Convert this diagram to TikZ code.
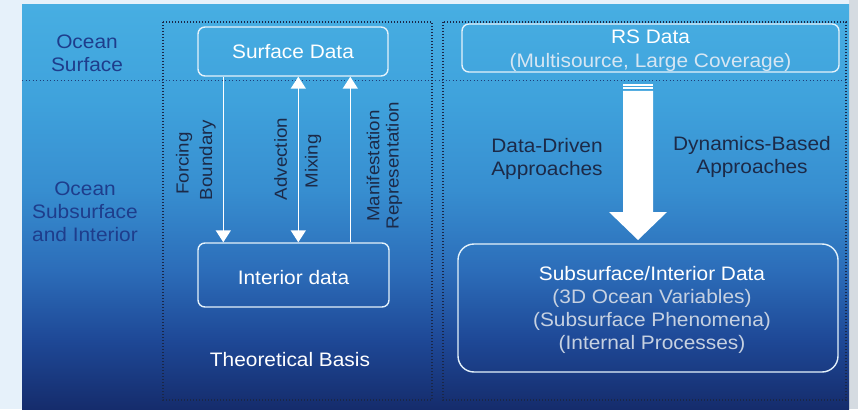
\documentclass[tikz,border=0pt]{standalone}
\usepackage{fontspec}
\setmainfont{Liberation Sans}[FakeStretch=1.07]
\usetikzlibrary{arrows.meta,calc}
\definecolor{bgout}{HTML}{E6F1FA}
\definecolor{graystrip}{HTML}{D5DBE1}
\definecolor{oc1}{HTML}{152C6C}
\definecolor{oc2}{HTML}{1E4896}
\definecolor{oc3}{HTML}{2C6DB9}
\definecolor{oc4}{HTML}{378ED0}
\definecolor{oc5}{HTML}{3FA2DC}
\definecolor{oc6}{HTML}{47AEE2}
\definecolor{navylabel}{HTML}{1E3D8C}
\definecolor{darklabel}{HTML}{1C2A48}
\definecolor{dotcol}{HTML}{1A2748}
\definecolor{hdotcol}{HTML}{1E3D7A}
\definecolor{boxline}{HTML}{E4F2FB}
\definecolor{softtext}{HTML}{D6E6F3}
\definecolor{greytext}{HTML}{C6D1E1}
\pgfdeclareverticalshading{oceanshade}{100bp}{color(0bp)=(oc1); color(25bp)=(oc1); color(33.5bp)=(oc2); color(42.2bp)=(oc3); color(52.1bp)=(oc4); color(63.2bp)=(oc5); color(75bp)=(oc6); color(100bp)=(oc6)}
\begin{document}
\begin{tikzpicture}[x=1pt,y=-1pt,
  mainfont/.style={font=\fontsize{19.5}{23}\selectfont},
  rotfont/.style={font=\fontsize{17.5}{20}\selectfont},
  databox/.style={draw=boxline, line width=1.4pt, rounded corners=7pt, text=white, inner sep=0pt, mainfont, align=center},
  sidelabel/.style={text=navylabel, mainfont, align=center, inner sep=0pt},
  approach/.style={text=darklabel, mainfont, align=center, inner sep=0pt},
  rotlabel/.style={text=darklabel, rotfont, rotate=90, inner sep=0pt},
  dotbox/.style={draw=dotcol, line width=1.3pt, dash pattern=on 1.3pt off 1.7pt},
  hdot/.style={draw=hdotcol, line width=1pt, dash pattern=on 1.2pt off 2.3pt},
  conn/.style={draw=white, line width=1.5pt},
  tip/.style={-{Triangle[width=15pt,length=12pt]}},
  bothtips/.style={{Triangle[width=15pt,length=12pt]}-{Triangle[width=15pt,length=12pt]}}
]
\useasboundingbox (0,0) rectangle (858,409);
\fill[bgout] (0,0) rectangle (858,409);
\fill[graystrip] (849,0) rectangle (858,409);
\shade[shading=oceanshade] (22,5) rectangle (849,409);

% dotted frames
\draw[hdot] (22,81) -- (847,81);
\draw[dotbox] (163,22) rectangle (432,400);
\draw[dotbox] (443,22) rectangle (846,400);

% side labels
\node[sidelabel] (osurf) at (87,53) {Ocean\\Surface};
\node[sidelabel] (osub) at (85,212) {Ocean\\Subsurface\\and Interior};

% left panel
\node[databox, minimum width=190pt, minimum height=49pt] (sd) at (293,51.5) {Surface Data};
\node[databox, minimum width=191pt, minimum height=64pt] (id) at (293.5,275) {\rule{0pt}{20pt}Interior data};
\node[text=white, mainfont, inner sep=0pt] (tb) at (290,360) {Theoretical Basis};

\draw[conn, tip] ([xshift=26pt]sd.south west) -- ([xshift=26pt]sd.south west |- id.north);
\draw[conn, bothtips] ([xshift=101pt]sd.south west) -- ([xshift=101pt]sd.south west |- id.north);
\draw[conn, tip] ([xshift=153pt]sd.south west |- id.north) -- ([xshift=153pt]sd.south west);

\node[rotlabel] (forcing) at (184,163.5) {Forcing};
\node[rotlabel] (boundary) at (207.5,160) {Boundary};
\node[rotlabel] (advection) at (280.5,159) {Advection};
\node[rotlabel] (mixing) at (313,161.5) {Mixing};
\node[rotlabel] (manif) at (373,166) {Manifestation};
\node[rotlabel] (repres) at (394,165.5) {Representation};

% right panel
\node[databox, minimum width=377pt, minimum height=48pt, font=\fontsize{19.5}{24}\selectfont] (rs) at (650.5,48) {\rule{0pt}{20pt}RS Data\\{\color{softtext}(Multisource, Large Coverage)}};
\node[databox, rounded corners=16pt, minimum width=380pt, minimum height=128pt, font=\fontsize{19.5}{23.3}\selectfont] (sid) at (648,308) {\rule{0pt}{18pt}\hspace*{8pt}Subsurface/Interior Data\\{\color{greytext}\hspace*{8pt}(3D Ocean Variables)}\\{\color{greytext}\hspace*{8pt}(Subsurface Phenomena)}\\{\color{greytext}\hspace*{8pt}(Internal Processes)}};

\node[approach] (dd) at (547,158.5) {Data-Driven\\Approaches};
\node[approach] (db) at (752,156.5) {Dynamics-Based\\Approaches};

% big arrow
\fill[white] (623,91) -- (653,91) -- (653,212) -- (667,212) -- (638,240) -- (609,212) -- (623,212) -- cycle;
\fill[white] (623,84) rectangle (653,86);
\fill[white] (623,87.5) rectangle (653,89.5);
\end{tikzpicture}
\end{document}
